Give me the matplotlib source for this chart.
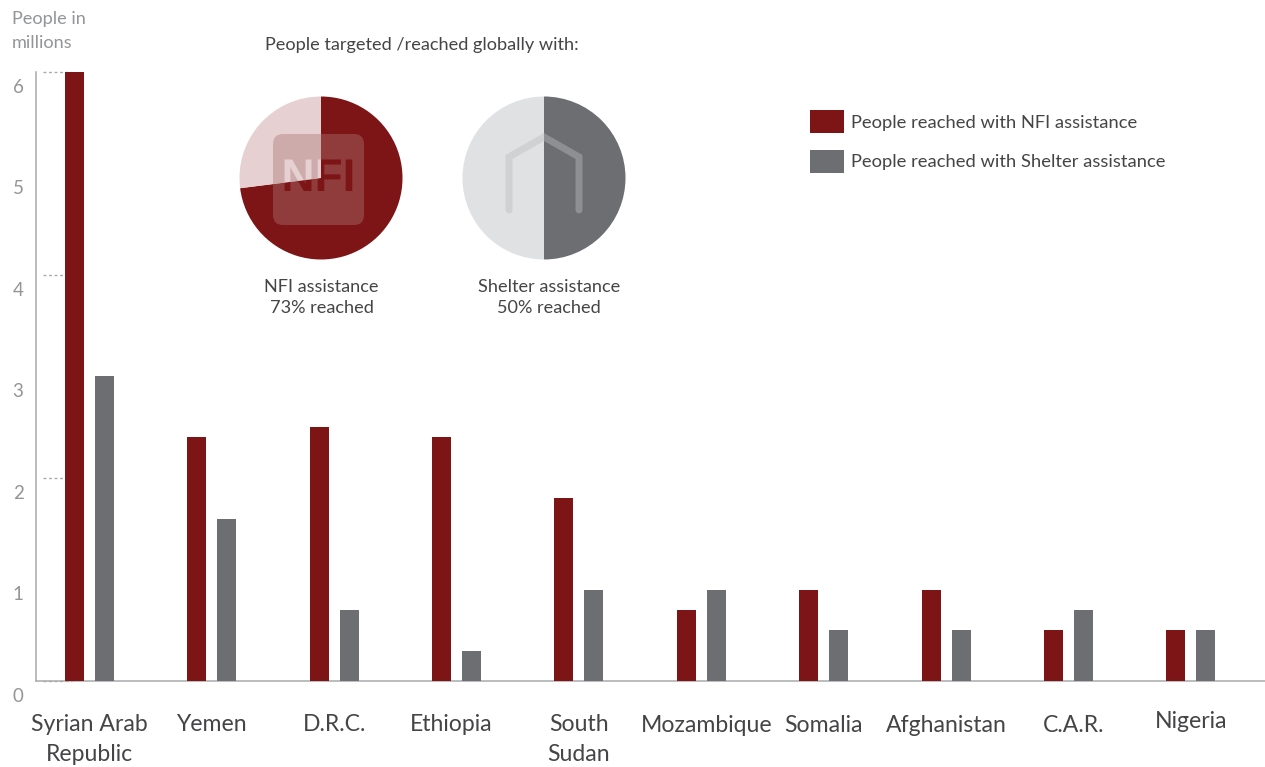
import matplotlib
matplotlib.use("Agg")
import matplotlib.pyplot as plt
import matplotlib.patheffects as pe
from matplotlib.patches import FancyBboxPatch
from matplotlib.transforms import ScaledTranslation

countries = ["Syrian Arab\nRepublic", "Yemen", "D.R.C.", "Ethiopia", "South\nSudan",
             "Mozambique", "Somalia", "Afghanistan", "C.A.R.", "Nigeria"]
nfi_reached = [6.0, 2.4, 2.5, 2.4, 1.8, 0.7, 0.9, 0.9, 0.5, 0.5]
shelter_reached = [3.0, 1.6, 0.7, 0.3, 0.9, 0.9, 0.5, 0.5, 0.7, 0.5]
nfi_pct = [73, 27]
shelter_pct = [50, 50]
y_ticks = [0, 1, 2, 3, 4, 5, 6]
dotted_levels = [0, 2, 4, 6]

RED, GREY = "#7d1416", "#6d6e71"
PINK, PALE = "#e6d0d1", "#e0e1e3"
AXIS, MUTED, INK = "#a7a9ac", "#939598", "#454446"
plt.rcParams["font.family"] = ["Lato", "DejaVu Sans"]

W, H = 1265, 767
fig = plt.figure(figsize=(W / 100, H / 100), dpi=100, facecolor="white")
ax = fig.add_axes([36 / W, (H - 681) / H, (W - 36) / W, 609 / H])
pitch = 122.4
origin = 89.3  # pixel of first group
def dx(px):
    return (px - origin) / pitch
x = list(range(len(countries)))
bw = 19 / pitch
ax.bar([i - 15 / pitch for i in x], nfi_reached, bw, color=RED, zorder=3, label="People reached with NFI assistance")
ax.bar([i + 15 / pitch for i in x], shelter_reached, bw, color=GREY, zorder=3, label="People reached with Shelter assistance")
ax.set_xlim(dx(36), dx(W))
ax.set_ylim(0, 6)
for s in ("top", "right"):
    ax.spines[s].set_visible(False)
for s in ("left", "bottom"):
    ax.spines[s].set_color(AXIS)
    ax.spines[s].set_linewidth(1.1)
ax.hlines(dotted_levels, dx(43), dx(72), color=AXIS, lw=1, ls=(0, (2, 2)), zorder=2, clip_on=False)

ax.set_yticks(y_ticks)
ax.set_yticklabels([str(v) for v in y_ticks], fontsize=13.5, color=MUTED)
ax.tick_params(axis="y", length=0, pad=9)
for lab in ax.get_yticklabels():
    lab.set_transform(lab.get_transform() + ScaledTranslation(0, -14 / 100, fig.dpi_scale_trans))
ax.set_xticks(x)
ax.set_xticklabels(countries, fontsize=16.6, color=INK, linespacing=1.53)
ax.tick_params(axis="x", length=0, pad=24)
shift = [(0, 0), (0, 0), (0, 0), (-5, 0), (0, 0), (5, -1), (0, -1), (0, -1), (5, -1), (0, 3)]
for lab, (sx, sy) in zip(ax.get_xticklabels(), shift):
    lab.set_transform(lab.get_transform() + ScaledTranslation(sx / 100, sy / 100, fig.dpi_scale_trans))

ax.legend(loc="upper left", bbox_to_anchor=((810 - 36) / (W - 36), (681 - 110) / 609),
          frameon=False, fontsize=13.2, labelcolor=INK, handlelength=1.85, handleheight=1.55, handletextpad=0.38,
          labelspacing=0.92, borderpad=0, borderaxespad=0)

# pixel-space overlay
ov = fig.add_axes([0, 0, 1, 1], facecolor="none")
def Y(py):
    return H - py

w1, _ = ov.pie(nfi_pct, colors=[RED, PINK], startangle=90, counterclock=False, center=(321, Y(178)),
               radius=81.5, frame=True, wedgeprops={"linewidth": 0})
w2, _ = ov.pie(shelter_pct, colors=[GREY, PALE], startangle=90, counterclock=False, center=(544, Y(178)),
               radius=81.5, frame=True, wedgeprops={"linewidth": 0})
ov.set_xlim(0, W)
ov.set_ylim(0, H)
ov.axis("off")

ov.add_patch(FancyBboxPatch((283, Y(225) + 10), 71, 71, boxstyle="round,pad=10,rounding_size=10",
                            fc="#ac7676", ec="none", alpha=0.41, zorder=4))

for wedge, col in zip(w1, [RED, PINK]):
    t = ov.text(318.5, Y(179), "NFI", family="Liberation Sans", weight="bold", fontsize=33, color=col,
                ha="center", va="center", zorder=5)
    t.set_path_effects([pe.Normal()])  # renders as a path, so the wedge clip applies
    t.set_clip_on(True)
    t.set_clip_path(wedge)

for wedge, col in zip(w2, ["#8e8f92", "#d0d1d3"]):
    ln, = ov.plot([509, 509, 544, 579, 579], [Y(210), Y(157), Y(137), Y(157), Y(210)], color=col, lw=5,
                  solid_capstyle="round", solid_joinstyle="miter", zorder=5)
    ln.set_clip_path(wedge)

ov.text(422, Y(45), "People targeted /reached globally with:", fontsize=13.1, color=INK, ha="center", va="center")
ov.text(12, Y(31), "People in\nmillions", fontsize=13.1, color=MUTED, ha="left", va="center", linespacing=1.65)
ov.text(321.5, Y(297.5), "NFI assistance\n73% reached", fontsize=13.1, color=INK, ha="center", va="center", linespacing=1.45)
ov.text(549, Y(297.5), "Shelter assistance\n50% reached", fontsize=13.1, color=INK, ha="center", va="center", linespacing=1.45)

fig.savefig("out.png", dpi=100)
